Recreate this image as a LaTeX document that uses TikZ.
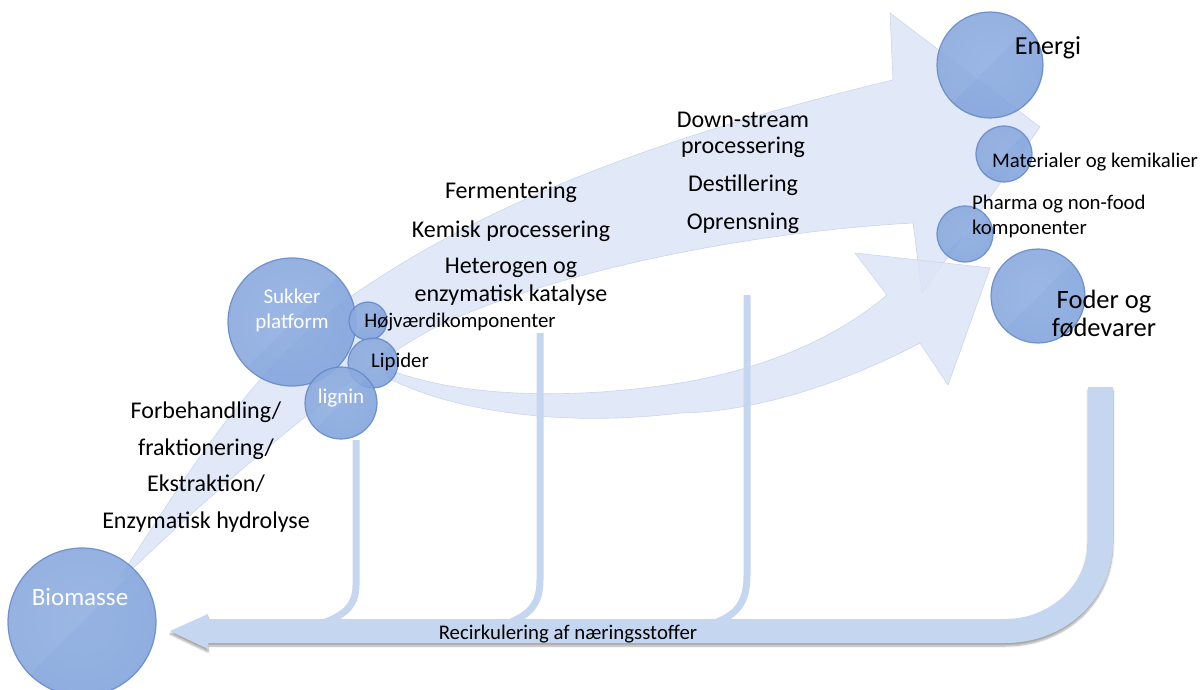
\documentclass[tikz,border=0pt]{standalone}
\usepackage{fontspec}
\setmainfont{Carlito}
\usetikzlibrary{shadows.blur}

\definecolor{flow}{RGB}{220,228,246}
\definecolor{flowedge}{RGB}{203,214,238}
\definecolor{recyc}{RGB}{197,215,240}
\definecolor{bubin}{RGB}{138,170,223}
\definecolor{bubout}{RGB}{117,153,213}
\definecolor{bubedge}{RGB}{98,136,202}
\pgfdeclareradialshading{bubshade}{\pgfpoint{0bp}{0bp}}{color(0bp)=(bubin); color(30bp)=(bubin!60!bubout); color(46bp)=(bubout); color(50bp)=(bubout)}

\begin{document}
\begin{tikzpicture}[x=1pt,y=-1pt,
    bubble/.style={circle,inner sep=0pt,shading=bubshade,draw=bubedge,
      line width=1.2pt,fill opacity=0.9,draw opacity=0.85,
      path picture={\fill[white,opacity=0.06] (path picture bounding box.north west)
        -- (path picture bounding box.north east) -- (path picture bounding box.south west) -- cycle;}},
    band/.style={fill=flow,fill opacity=0.85,draw=flowedge,line width=0.6pt},
    stem/.style={draw=recyc,line width=7pt},
    lbl/.style={font=\fontsize{24}{28}\selectfont,align=center,inner sep=0pt},
    sml/.style={font=\fontsize{20.8}{25}\selectfont,align=left,inner sep=0pt},
    intext/.style={text=white,align=center,inner sep=0pt}]
  \useasboundingbox (0,0) rectangle (1202,690);

  % main flow: biomasse -> sukker -> energi
  \draw[band] (120,577) .. controls (190,470) and (250,370) .. (350,297)
    .. controls (450,228) and (600,150) .. (893,80) -- (890,13) -- (1040,127)
    -- (922,293) -- (913,223) .. controls (750,232) and (560,270) .. (440,325)
    .. controls (360,365) and (230,475) .. (124,577) -- cycle;
  % lipid flow -> foder
  \draw[band] (385,368) .. controls (450,395) and (560,402) .. (680,383)
    .. controls (770,368) and (840,335) .. (887,295) -- (855,253) -- (990,268)
    -- (948,385) -- (920,343) .. controls (850,380) and (760,412) .. (680,413)
    .. controls (560,428) and (450,410) .. (388,378) -- cycle;

  % recirculation
  \draw[stem] (356,440) -- (356,585) .. controls (356,606) and (344,616) .. (320,624);
  \draw[stem] (540,333) -- (540,580) .. controls (540,604) and (530,615) .. (506,624);
  \draw[stem] (747,295) -- (747,575) .. controls (747,603) and (737,615) .. (712,624);
  \fill[recyc,blur shadow={shadow xshift=0pt,shadow yshift=-3pt,shadow opacity=35,shadow blur steps=6}]
    (1088,387) -- (1113,387) -- (1113,540) .. controls (1113,600) and (1065,643) .. (1005,643)
    -- (208,643) -- (208,649) -- (170,631) -- (208,614) -- (208,619) -- (1005,619)
    .. controls (1050,619) and (1088,585) .. (1088,540) -- cycle;

  % bubbles
  \node[bubble,minimum size=148pt] (biomasse) at (82,622) {};
  \node[bubble,minimum size=128pt] (sukker) at (292,322) {};
  \node[bubble,minimum size=38pt] (hoj) at (368,321) {};
  \node[bubble,minimum size=50pt] (lipid) at (373,363) {};
  \node[bubble,minimum size=72pt] (lignin) at (341,403) {};
  \node[bubble,minimum size=106pt] (energi) at (990,65) {};
  \node[bubble,minimum size=56pt] (mater) at (1004,154) {};
  \node[bubble,minimum size=56pt] (pharma) at (965,234) {};
  \node[bubble,minimum size=94pt] (foder) at (1038,296) {};

  % texts
  \node[intext,font=\fontsize{25}{30}\selectfont] (tbio) at (80,597) {Biomasse};
  \node[intext,font=\fontsize{21}{25}\selectfont] (tsuk) at (292,310) {Sukker\\platform};
  \node[intext,font=\fontsize{21}{24}\selectfont] (tlig) at (341,398) {lignin};
  \node[sml] (thoj) at (460,322) {Højværdikomponenter};
  \node[sml] (tlip) at (400,362) {Lipider};
  \node[font=\fontsize{26}{30}\selectfont,inner sep=0pt] (tene) at (1048,48) {Energi};
  \node[sml] (tmat) at (1095,162) {Materialer og kemikalier};
  \node[sml,anchor=west] (tpha) at (972,216) {Pharma og non-food\\komponenter};
  \node[lbl,font=\fontsize{26.5}{28}\selectfont] (tfod) at (1104,314) {Foder og\\fødevarer};

  \node[lbl,font=\fontsize{24}{36.7}\selectfont] (tpre) at (206,467)
    {Forbehandling/\\fraktionering/\\Ekstraktion/\\Enzymatisk hydrolyse};
  \node[lbl] (tfer) at (511,192) {Fermentering};
  \node[lbl] (tkem) at (511,231) {Kemisk processering};
  \node[lbl] (thet) at (511,282) {Heterogen og\\enzymatisk katalyse};
  \node[lbl,font=\fontsize{24}{26}\selectfont] (tdow) at (743,135) {Down-stream\\processering};
  \node[lbl] (tdes) at (743,185) {Destillering};
  \node[lbl] (topr) at (743,223) {Oprensning};
  \node[sml] (trec) at (568,634) {Recirkulering af næringsstoffer};
\end{tikzpicture}
\end{document}
